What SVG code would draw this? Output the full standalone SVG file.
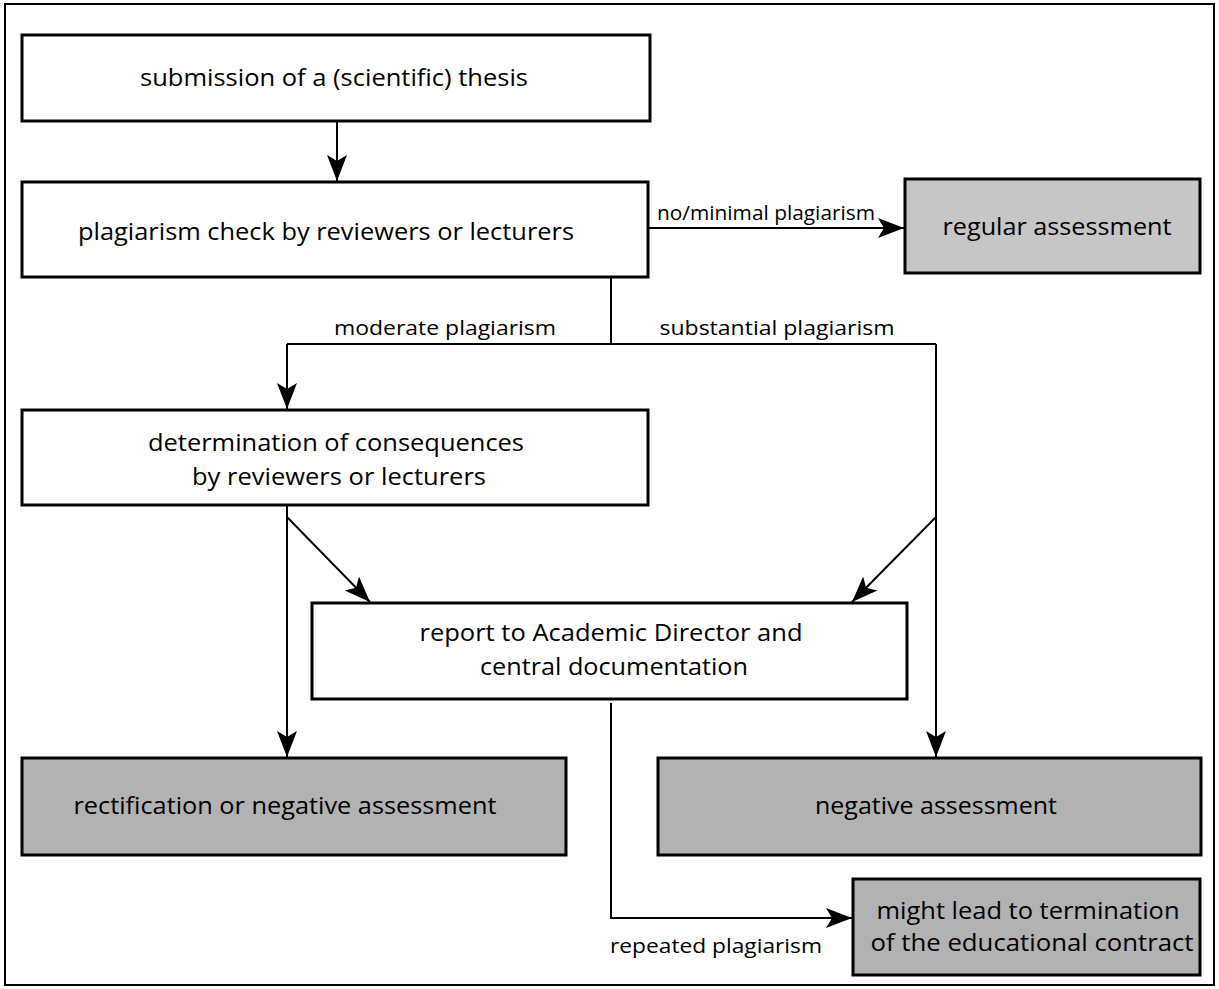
<svg xmlns="http://www.w3.org/2000/svg" width="1219" height="989" viewBox="0 0 1219 989">
<style>
.box{fill:#ffffff;stroke:#000000;stroke-width:3}
.g1{fill:#c6c6c6;stroke:#000000;stroke-width:3}
.g2{fill:#b2b2b2;stroke:#000000;stroke-width:3}
.t{font-family:"Open Sans","Liberation Sans",sans-serif;font-size:24px;fill:#000000;text-anchor:middle}
.l{font-family:"Open Sans","Liberation Sans",sans-serif;font-size:20px;fill:#000000}
.c{fill:none;stroke:#000000;stroke-width:2}
</style>
<defs>
<marker id="ah" markerUnits="userSpaceOnUse" markerWidth="28" markerHeight="22" viewBox="0 0 28 22" refX="26" refY="11" orient="auto">
<path d="M0,1 L26,11 L0,21 L6,11 Z" fill="#000000"/>
</marker>
</defs>
<rect x="5" y="4" width="1209" height="981" fill="#ffffff" stroke="#000000" stroke-width="2"/>
<g id="connectors">
<line class="c" x1="337" y1="121" x2="337" y2="181" marker-end="url(#ah)"/>
<line class="c" x1="649" y1="228" x2="904" y2="228" marker-end="url(#ah)"/>
<polyline class="c" points="611,278 611,344"/>
<polyline class="c" points="287,344 936,344"/>
<line class="c" x1="287" y1="344" x2="287" y2="409" marker-end="url(#ah)"/>
<line class="c" x1="287" y1="506" x2="287" y2="757" marker-end="url(#ah)"/>
<line class="c" x1="287" y1="517" x2="370" y2="602" marker-end="url(#ah)"/>
<line class="c" x1="936" y1="344" x2="936" y2="757" marker-end="url(#ah)"/>
<line class="c" x1="936" y1="517" x2="852" y2="602" marker-end="url(#ah)"/>
<polyline class="c" points="611,703 611,918 852,918" marker-end="url(#ah)"/>
<text class="l" x="657" y="220" textLength="218" lengthAdjust="spacingAndGlyphs">no/minimal plagiarism</text>
<text class="l" x="445" y="335" text-anchor="middle" textLength="222" lengthAdjust="spacingAndGlyphs">moderate plagiarism</text>
<text class="l" x="777" y="335" text-anchor="middle" textLength="235" lengthAdjust="spacingAndGlyphs">substantial plagiarism</text>
<text class="l" x="716" y="953" text-anchor="middle" textLength="212" lengthAdjust="spacingAndGlyphs">repeated plagiarism</text>
</g>
<g id="submission">
<rect class="box" x="22" y="35" width="628" height="86"/>
<text class="t" x="334" y="86" textLength="388" lengthAdjust="spacingAndGlyphs">submission of a (scientific) thesis</text>
</g>
<g id="check">
<rect class="box" x="22" y="182" width="626" height="95"/>
<text class="t" x="326" y="240" textLength="496" lengthAdjust="spacingAndGlyphs">plagiarism check by reviewers or lecturers</text>
</g>
<g id="regular">
<rect class="g1" x="905" y="179" width="295" height="94"/>
<text class="t" x="1057" y="235" textLength="229" lengthAdjust="spacingAndGlyphs">regular assessment</text>
</g>
<g id="determination">
<rect class="box" x="22" y="410" width="626" height="95"/>
<text class="t" x="336" y="451" textLength="376" lengthAdjust="spacingAndGlyphs">determination of consequences</text>
<text class="t" x="339" y="485" textLength="294" lengthAdjust="spacingAndGlyphs">by reviewers or lecturers</text>
</g>
<g id="report">
<rect class="box" x="312" y="603" width="595" height="96"/>
<text class="t" x="611" y="641" textLength="383" lengthAdjust="spacingAndGlyphs">report to Academic Director and</text>
<text class="t" x="614" y="675" textLength="268" lengthAdjust="spacingAndGlyphs">central documentation</text>
</g>
<g id="rectification">
<rect class="g2" x="22" y="758" width="544" height="97"/>
<text class="t" x="285" y="814" textLength="423" lengthAdjust="spacingAndGlyphs">rectification or negative assessment</text>
</g>
<g id="negative">
<rect class="g2" x="658" y="758" width="543" height="97"/>
<text class="t" x="936" y="814" textLength="242" lengthAdjust="spacingAndGlyphs">negative assessment</text>
</g>
<g id="termination">
<rect class="g2" x="853" y="879" width="347" height="96"/>
<text class="t" x="1028" y="919" textLength="303" lengthAdjust="spacingAndGlyphs">might lead to termination</text>
<text class="t" x="1032" y="951" textLength="323" lengthAdjust="spacingAndGlyphs">of the educational contract</text>
</g>
</svg>
